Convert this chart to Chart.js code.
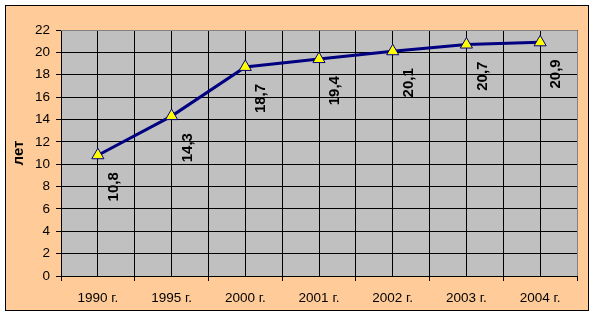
<!DOCTYPE html>
<html>
<head>
<meta charset="utf-8">
<script src="https://cdn.jsdelivr.net/npm/chart.js@4"></script>
<style>
  html, body { margin: 0; padding: 0; background: #fff; }
  canvas { display: block; }
</style>
</head>
<body>
<canvas id="chart" width="596" height="317"></canvas>
<script>
// данные
const years = ['1990 г.', '1995 г.', '2000 г.', '2001 г.', '2002 г.', '2003 г.', '2004 г.'];
const values = [10.8, 14.3, 18.7, 19.4, 20.1, 20.7, 20.9];
const valueLabels = ['10,8', '14,3', '18,7', '19,4', '20,1', '20,7', '20,9'];
const yMin = 0;
const yMax = 22;
const yStep = 2;

const FONT = 'Arial, "Liberation Sans", sans-serif';

// фон, рамка и серая область построения
const backgroundPlugin = {
  id: 'excelBackground',
  beforeDraw(chart) {
    const { ctx, chartArea } = chart;
    ctx.save();
    ctx.fillStyle = '#ffffff';
    ctx.fillRect(0, 0, chart.width, chart.height);
    ctx.fillStyle = '#FFCC99';
    ctx.fillRect(5, 5, 584, 306);
    ctx.strokeStyle = '#000000';
    ctx.lineWidth = 1;
    ctx.strokeRect(5.5, 5.5, 583, 305);
    ctx.fillStyle = '#C0C0C0';
    ctx.fillRect(chartArea.left, chartArea.top, chartArea.right - chartArea.left, chartArea.bottom - chartArea.top);
    ctx.restore();
  },
  beforeDatasetsDraw(chart) {
    const { ctx, chartArea } = chart;
    ctx.save();
    ctx.strokeStyle = '#808080';
    ctx.lineWidth = 1;
    ctx.beginPath();
    ctx.moveTo(chartArea.left, Math.round(chartArea.top) + 0.5);
    ctx.lineTo(Math.round(chartArea.right) + 0.5, Math.round(chartArea.top) + 0.5);
    ctx.lineTo(Math.round(chartArea.right) + 0.5, chartArea.bottom);
    ctx.stroke();
    ctx.restore();
  }
};

// подписи значений, повёрнутые на 90°
const valueLabelPlugin = {
  id: 'valueLabels',
  afterDatasetsDraw(chart) {
    const { ctx } = chart;
    const meta = chart.getDatasetMeta(0);
    ctx.save();
    ctx.fillStyle = '#000000';
    ctx.font = 'bold 15px ' + FONT;
    ctx.textAlign = 'right';
    ctx.textBaseline = 'middle';
    meta.data.forEach((pt, i) => {
      ctx.save();
      ctx.translate(pt.x + 16, pt.y + 17);
      ctx.rotate(-Math.PI / 2);
      ctx.fillText(valueLabels[i], 0, 0);
      ctx.restore();
    });
    ctx.restore();
  }
};

new Chart(document.getElementById('chart'), {
  type: 'line',
  data: {
    labels: years,
    datasets: [{
      data: values,
      borderColor: '#000080',
      borderWidth: 3,
      tension: 0,
      pointStyle: 'triangle',
      pointRadius: 7,
      pointBackgroundColor: '#FFFF00',
      pointBorderColor: '#000080',
      pointBorderWidth: 1
    }]
  },
  options: {
    responsive: false,
    animation: false,
    layout: { padding: { top: 30, right: 19, left: 0, bottom: 0 } },
    plugins: {
      legend: { display: false },
      tooltip: { enabled: false }
    },
    scales: {
      x: {
        type: 'category',
        position: 'bottom',
        offset: true,
        grid: { offset: true, color: '#000000', lineWidth: 1, tickLength: 5, tickColor: '#000000' },
        border: { color: '#000000', width: 1 },
        ticks: { color: '#000000', font: { family: FONT, size: 13.5 }, padding: 9, maxRotation: 0, autoSkip: false },
        afterFit: s => { s.height = 41; }
      },
      x2: {
        type: 'category',
        position: 'bottom',
        offset: true,
        grid: { offset: false, color: '#000000', lineWidth: 1, drawTicks: false },
        border: { display: false },
        ticks: { display: false },
        afterFit: s => { s.height = 0; }
      },
      y: {
        min: yMin,
        max: yMax,
        grid: { color: '#000000', lineWidth: 1, tickLength: 5, tickColor: '#000000' },
        border: { color: '#000000', width: 1 },
        ticks: { stepSize: yStep, color: '#000000', font: { family: FONT, size: 13.5 }, padding: 6 },
        title: { display: true, text: 'лет', color: '#000000', font: { family: FONT, size: 15, weight: 'bold' }, padding: { top: 10, bottom: 0 } },
        afterFit: s => { s.width = 61; }
      }
    }
  },
  plugins: [backgroundPlugin, valueLabelPlugin]
});
</script>
</body>
</html>
